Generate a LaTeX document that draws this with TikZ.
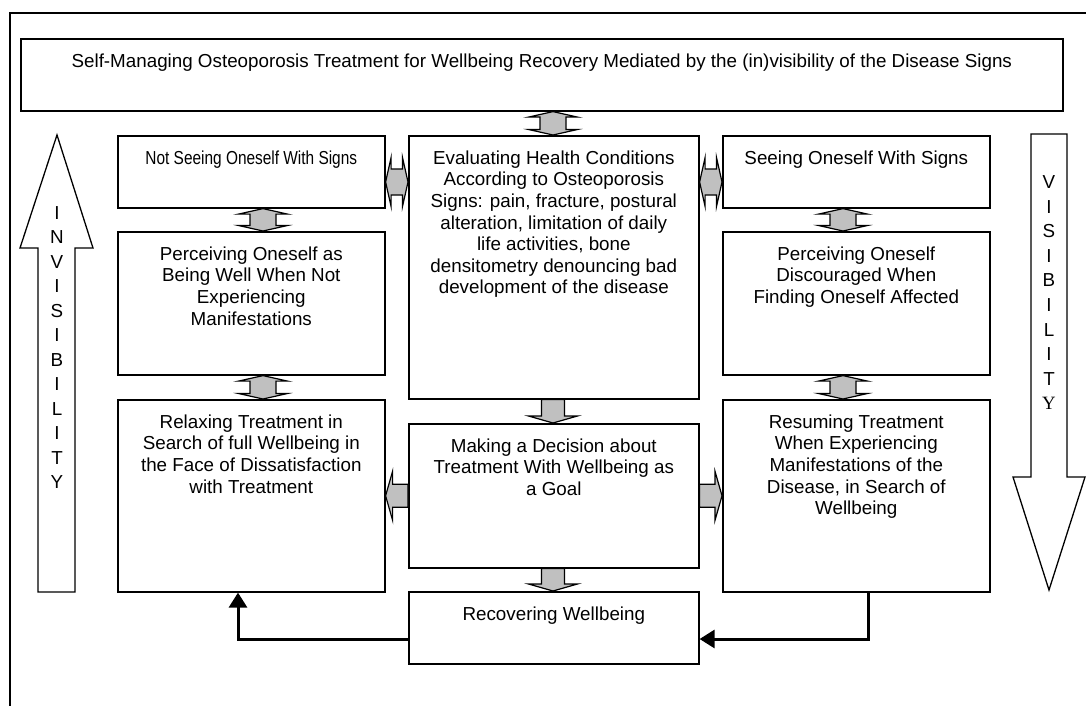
\documentclass[tikz,border=0pt]{standalone}
\usepackage{fontspec}
\setmainfont{Liberation Sans}
\newfontfamily\serifletter{Liberation Serif}
\usetikzlibrary{calc}
\usetikzlibrary {arrows.meta}
\definecolor{linkgray}{HTML}{C0C0C0}
\newcommand{\linkcolor}{linkgray}
\newcommand{\boxwidth}{1.6}
\newcommand{\linkwidth}{1.2}
\newcommand{\loopwidth}{3}
\newcommand{\headw}{24.5}
\newcommand{\headh}{5.5}
\newcommand{\shaftw}{13}
\newcommand{\shead}{7}
\newcommand{\sshaft}{11.5}
\newcommand{\diagramfont}{\fontsize{18.8}{21.6}\selectfont}
\newcommand{\stagecoords}{
	\coordinate (colL) at (263, 0);
	\coordinate (colM) at (553, 0);
	\coordinate (colR) at (843, 0);
	\coordinate (rowT) at (0, 182);
	\coordinate (loopL) at (238, 639);
	\coordinate (loopR) at (868, 639);
}
\newcommand{\stagebox}[6]{
	\node[stage, minimum width=#4pt, minimum height=#5pt] (#1) at (#2, #3) {};
	\node[stagetext] (#1text) at ([yshift=-15.5pt]#1.north) {#6};
}
\newcommand{\vtwin}[3]{
	\path (#1 |- #2.south) coordinate (ta) (#1 |- #3.north) coordinate (tb);
	\draw[link] (ta) -- ([shift={(\headw,\headh)}]ta) -- ([shift={(\shaftw,\headh)}]ta)
		-- ([shift={(\shaftw,-\headh)}]tb) -- ([shift={(\headw,-\headh)}]tb) -- (tb)
		-- ([shift={(-\headw,-\headh)}]tb) -- ([shift={(-\shaftw,-\headh)}]tb)
		-- ([shift={(-\shaftw,\headh)}]ta) -- ([shift={(-\headw,\headh)}]ta) -- cycle;
}
\newcommand{\htwin}[3]{
	\path (#2.east |- #1) coordinate (ta) (#3.west |- #1) coordinate (tb);
	\draw[link] (ta) -- ([shift={(\headh,-\headw)}]ta) -- ([shift={(\headh,-\shaftw)}]ta)
		-- ([shift={(-\headh,-\shaftw)}]tb) -- ([shift={(-\headh,-\headw)}]tb) -- (tb)
		-- ([shift={(-\headh,\headw)}]tb) -- ([shift={(-\headh,\shaftw)}]tb)
		-- ([shift={(\headh,\shaftw)}]ta) -- ([shift={(\headh,\headw)}]ta) -- cycle;
}
\newcommand{\vsingle}[3]{
	\path (#1 |- #2.south) coordinate (ta) (#1 |- #3.north) coordinate (tb);
	\draw[link] ([shift={(-\sshaft,0)}]ta) -- ([shift={(-\sshaft,-\shead)}]tb)
		-- ([shift={(-\headw,-\shead)}]tb) -- (tb) -- ([shift={(\headw,-\shead)}]tb)
		-- ([shift={(\sshaft,-\shead)}]tb) -- ([shift={(\sshaft,0)}]ta) -- cycle;
}
\newcommand{\hsingle}[3]{
	\draw[link] ([shift={(0,-\sshaft)}]#1) -- ([shift={(#3,-\sshaft)}]#2)
		-- ([shift={(#3,-\headw)}]#2) -- (#2) -- ([shift={(#3,\headw)}]#2)
		-- ([shift={(#3,\sshaft)}]#2) -- ([shift={(0,\sshaft)}]#1) -- cycle;
}

\begin{document}
\begin{tikzpicture}[x=1pt, y=-1pt,
		stage/.style={draw, line width=\boxwidth, anchor=north west, inner sep=0},
		stagetext/.style={anchor=north, align=center, inner sep=0, font=\diagramfont},
		sideletter/.style={inner sep=0, font=\diagramfont},
		sidearrow/.style={draw, line width=1.3, line join=miter},
		link/.style={draw, fill=\linkcolor, line width=\linkwidth, line join=miter},
		loopline/.style={line width=\loopwidth, -{Triangle[length=15pt, width=18pt]}}]
	\useasboundingbox (0, 0) rectangle (1086, 706);
	\stagecoords

	\draw[line width=1.5] (10, 706) -- (10, 13) -- (1086, 13);

	\stagebox{title}{20}{38}{1042}{72}{Self-Managing Osteoporosis Treatment for Wellbeing Recovery Mediated by the (in)visibility of the Disease Signs}
	\stagebox{notsee}{117}{135}{267}{72}{\scalebox{0.82}[1]{Not Seeing Oneself With Signs}}
	\stagebox{perwell}{117}{231}{267}{143}{Perceiving Oneself as\\Being Well When Not\\Experiencing\\Manifestations}
	\stagebox{relax}{117}{399}{267}{192}{Relaxing Treatment in\\Search of full Wellbeing in\\the Face of Dissatisfaction\\with Treatment}
	\stagebox{eval}{408}{135}{290}{263}{Evaluating Health Conditions\\According to Osteoporosis\\Signs: pain, fracture, postural\\alteration, limitation of daily\\life activities, bone\\densitometry denouncing bad\\development of the disease}
	\stagebox{decide}{408}{423}{290}{144}{Making a Decision about\\Treatment With Wellbeing as\\a Goal}
	\stagebox{recover}{408}{591}{290}{72}{Recovering Wellbeing}
	\stagebox{see}{722}{135}{267}{72}{Seeing Oneself With Signs}
	\stagebox{perdisc}{722}{231}{267}{143}{Perceiving Oneself\\Discouraged When\\Finding Oneself Affected}
	\stagebox{resume}{722}{399}{267}{192}{Resuming Treatment\\When Experiencing\\Manifestations of the\\Disease, in Search of\\Wellbeing}

	\vtwin{colM}{title}{eval}
	\vtwin{colL}{notsee}{perwell}
	\vtwin{colL}{perwell}{relax}
	\vtwin{colR}{see}{perdisc}
	\vtwin{colR}{perdisc}{resume}
	\htwin{rowT}{notsee}{eval}
	\htwin{rowT}{eval}{see}
	\vsingle{colM}{eval}{decide}
	\vsingle{colM}{decide}{recover}

	\path (relax.east |- decide.west) coordinate (tipL) (resume.west |- decide.east) coordinate (tipR);
	\hsingle{decide.west}{tipL}{\shead}
	\hsingle{decide.east}{tipR}{-\shead}

	\draw[loopline] (recover.west |- loopL) -- (loopL) -- (loopL |- relax.south);
	\draw[loopline] (loopR |- resume.south) -- (loopR) -- (recover.east |- loopR);

	\draw[sidearrow] (38, 592) -- (38, 248) -- (20, 248) -- (57, 135) -- (93, 248) -- (75, 248) -- (75, 592) -- cycle;
	\foreach \letter [count=\i] in {I,N,V,I,S,I,B,I,L,I,T,Y}
		\node[sideletter] (inv\i) at (57, {213 + 24.5*(\i-1)}) {\letter};

	\draw[sidearrow] (1031, 134) -- (1067, 134) -- (1067, 477) -- (1085, 477) -- (1049, 590) -- (1013, 477) -- (1031, 477) -- cycle;
	\foreach \letter [count=\i] in {V,I,S,I,B,I,L,I,T,{\serifletter Y}}
		\node[sideletter] (vis\i) at (1049, {182 + 24.6*(\i-1)}) {\letter};

\end{tikzpicture}
\end{document}
